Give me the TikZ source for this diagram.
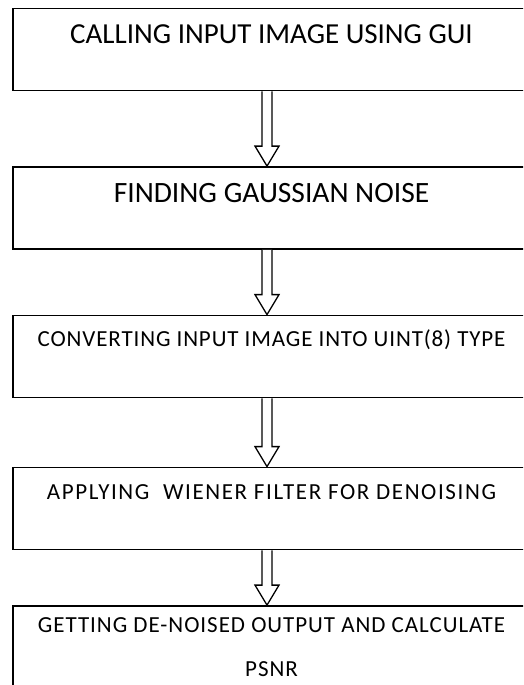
\documentclass[tikz,border=0pt]{standalone}
\usepackage{fontspec}
\setmainfont{Carlito}
\usetikzlibrary{positioning}

\tikzset{
  stepbox/.style={draw, line width=1.8pt, rectangle, minimum width=517pt, minimum height=82pt, inner sep=0pt},
  steptext/.style={anchor=base, inner sep=0pt, align=center},
  hollow/.style={draw, fill=white, line width=1.3pt, line join=miter}
}
\newcommand{\flowarrow}[2]{%
  \draw[hollow] ([xshift=-9.5]#1.south) -- ([xshift=-9.5,yshift=20]#2.north)
    -- ([xshift=-16.5,yshift=20]#2.north) -- ([xshift=-4.5]#2.north)
    -- ([xshift=7.5,yshift=20]#2.north) -- ([xshift=0.5,yshift=20]#2.north)
    -- ([xshift=0.5]#1.south);}

\begin{document}
\begin{tikzpicture}[x=1pt,y=1pt]
    \useasboundingbox (0,0) rectangle (523,-685);
    \clip (0,0) rectangle (523,-685);
    \fill[white] (0,0) rectangle (523,-685);

    \node[stepbox] (b1) at (271.5,-49.5) {};
    \node[stepbox] (b2) at (271.5,-208) {};
    \node[stepbox] (b3) at (271.5,-356.5) {};
    \node[stepbox] (b4) at (271.5,-508.5) {};
    \node[stepbox, minimum height=110pt] (b5) at (271.5,-661) {};

    \node[steptext, font=\fontsize{29}{34}\selectfont] (t1) at ([yshift=-36]b1.north) {CALLING INPUT IMAGE USING GUI};
    \node[steptext, font=\fontsize{29.5}{34}\selectfont] (t2) at ([yshift=-36]b2.north) {FINDING GAUSSIAN NOISE};
    \node[steptext, font=\fontsize{23}{24}\selectfont\addfontfeatures{LetterSpace=3.8}] (t3) at ([yshift=-32]b3.north) {CONVERTING INPUT IMAGE INTO UINT(8) TYPE};
    \node[steptext, font=\fontsize{23}{24}\selectfont\addfontfeatures{LetterSpace=7}] (t4) at ([yshift=-33]b4.north) {APPLYING\ \ WIENER FILTER FOR DENOISING};
    \node[steptext, font=\fontsize{23}{44}\selectfont\addfontfeatures{LetterSpace=4.2}] (t5) at ([yshift=-71]b5.north) {GETTING DE-NOISED OUTPUT AND CALCULATE\\PSNR};

    \flowarrow{b1}{b2}
    \flowarrow{b2}{b3}
    \flowarrow{b3}{b4}
    \flowarrow{b4}{b5}
\end{tikzpicture}
\end{document}
